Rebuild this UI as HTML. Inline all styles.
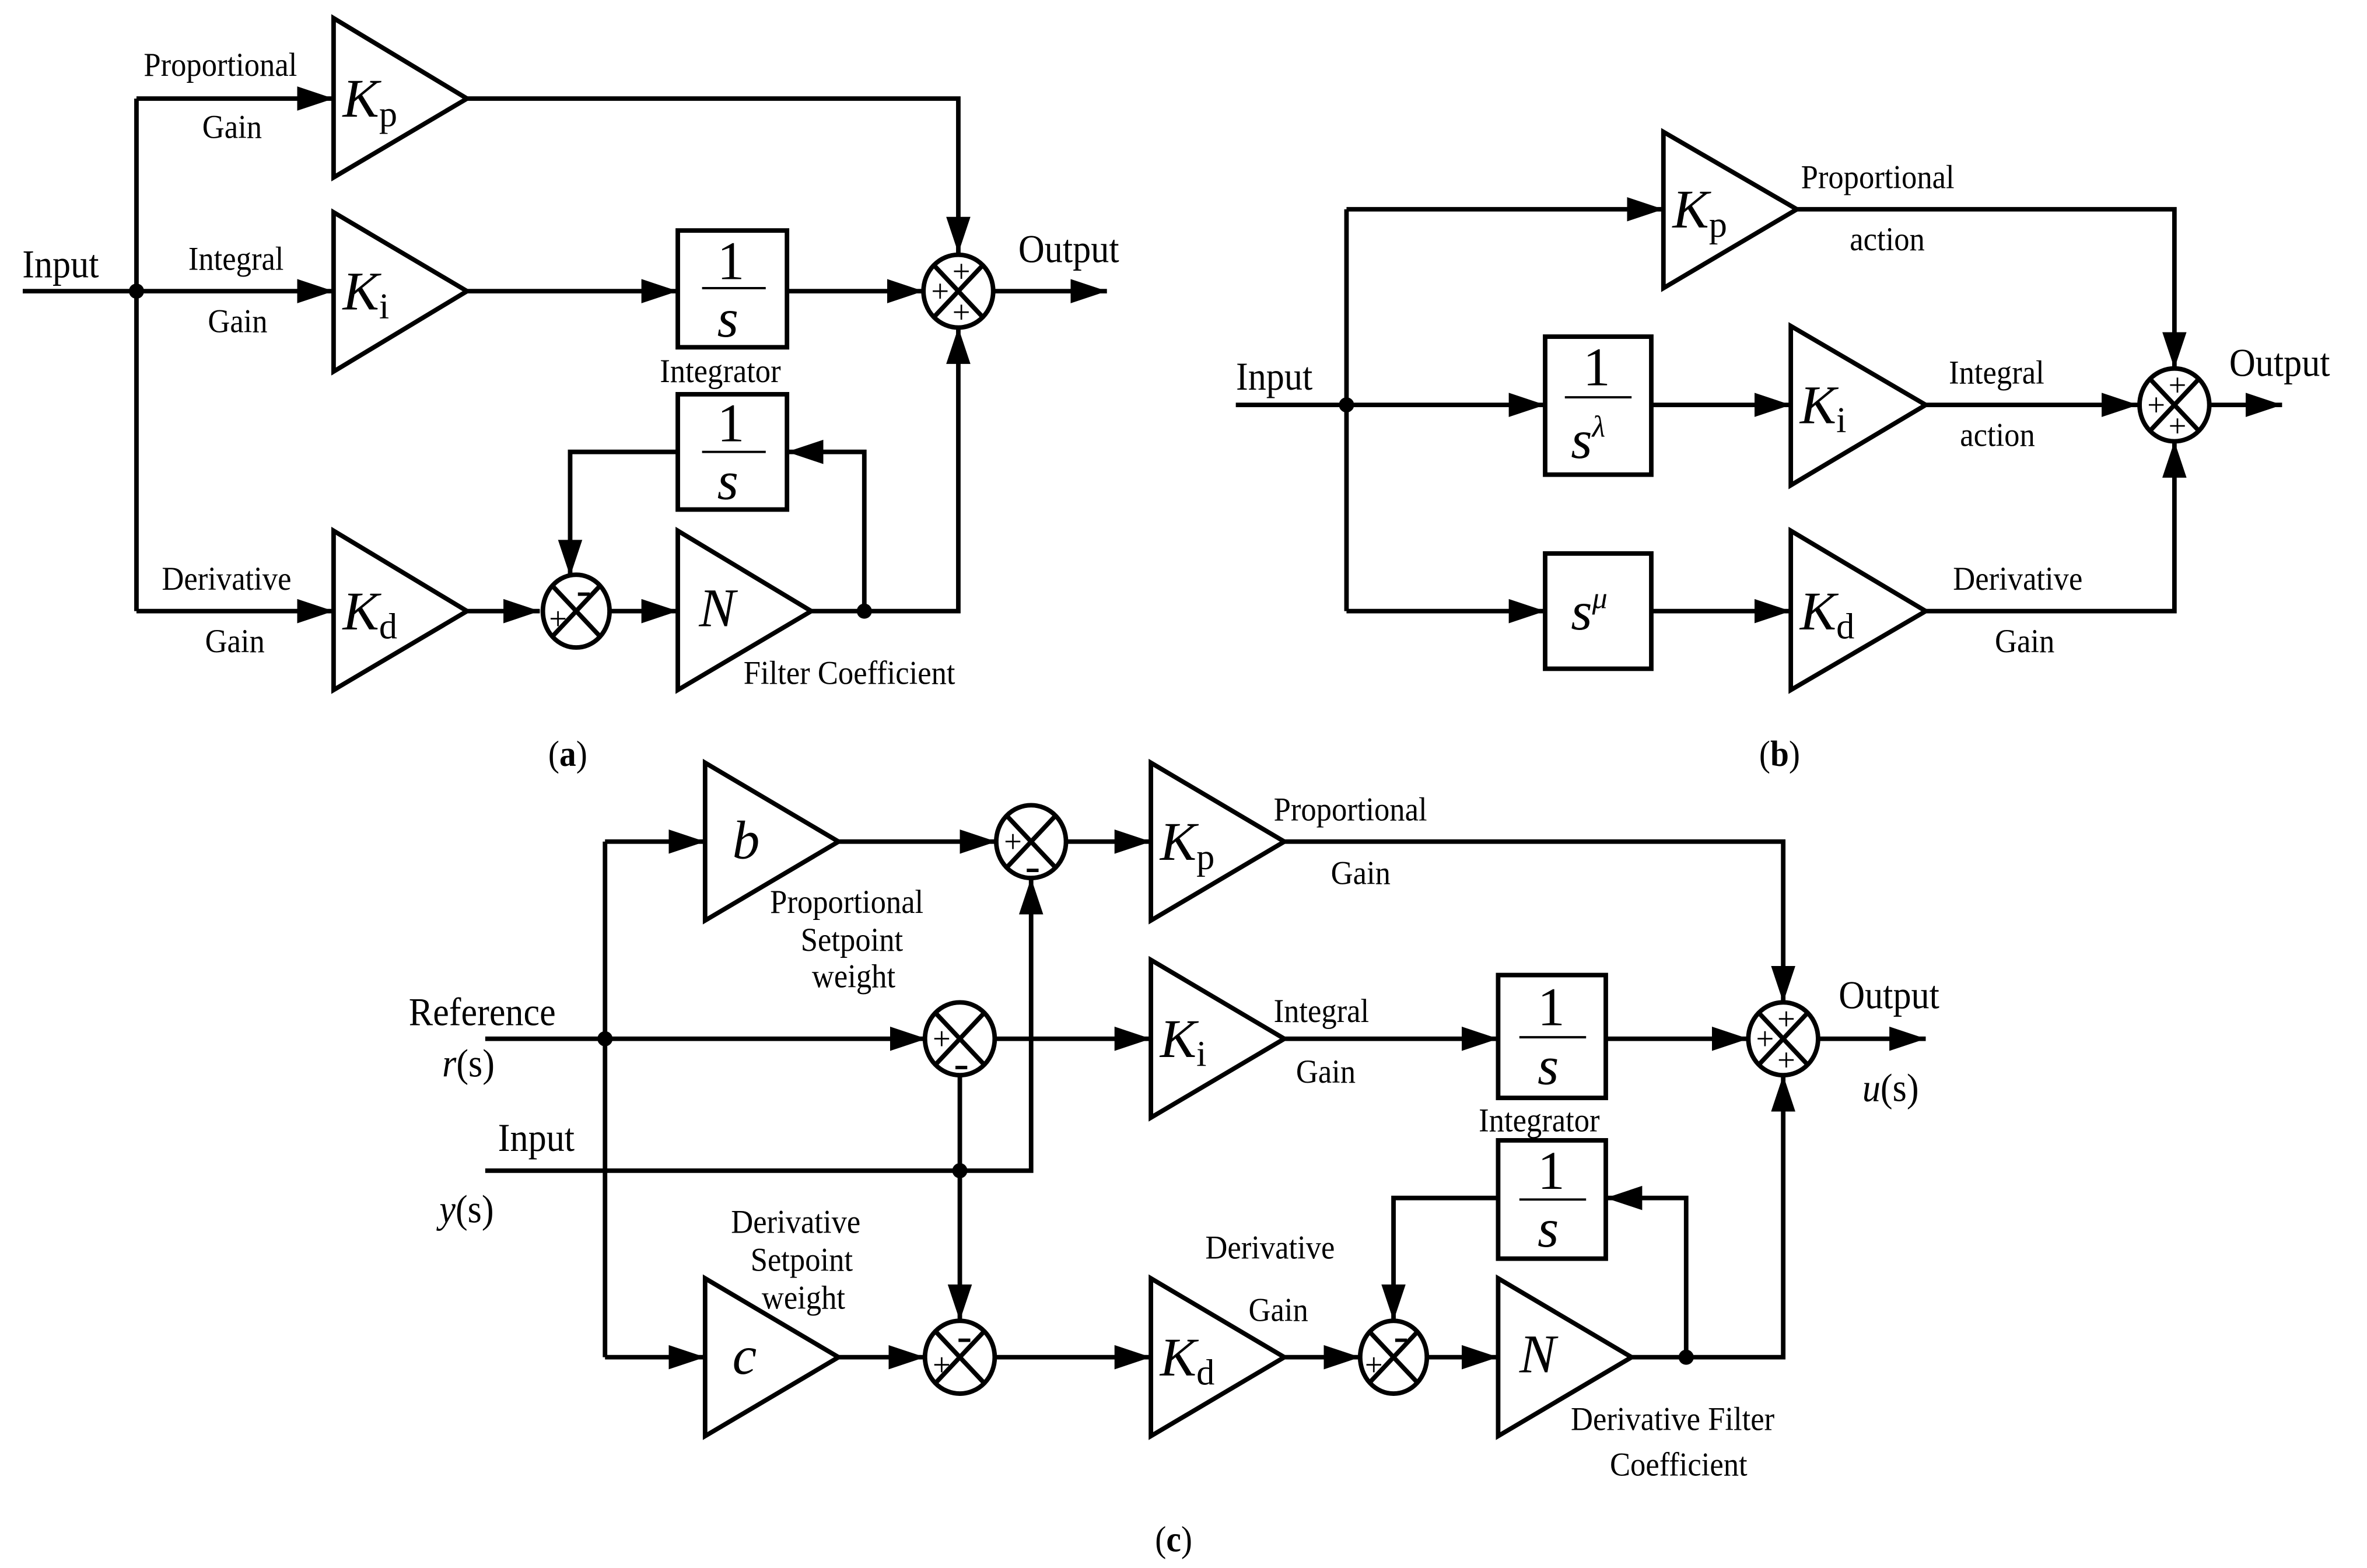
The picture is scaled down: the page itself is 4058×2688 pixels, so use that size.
<!DOCTYPE html>
<html><head><meta charset="utf-8"><style>html,body{margin:0;padding:0;background:#fff}svg{display:block}text{font-family:"Liberation Serif",serif}</style></head>
<body>
<svg width="4058" height="2688" viewBox="0 0 1561 1034" preserveAspectRatio="none" xmlns="http://www.w3.org/2000/svg" font-family="'Liberation Serif', serif">
<defs>
<marker id="a" markerUnits="userSpaceOnUse" markerWidth="26" markerHeight="18" refX="24" refY="8" orient="auto"><path d="M0,0 L24,8 L0,16 z" fill="#000"/></marker>
</defs>
<g stroke="#000" stroke-width="3" fill="none">
<!-- (a) -->
<line x1="15" y1="192" x2="220" y2="192" marker-end="url(#a)"/>
<line x1="90" y1="65" x2="90" y2="403"/>
<line x1="90" y1="65" x2="220" y2="65" marker-end="url(#a)"/>
<line x1="90" y1="403" x2="220" y2="403" marker-end="url(#a)"/>
<polygon points="220,12 220,117 308,65"/>
<polygon points="220,140 220,245 308,192"/>
<polygon points="220,350 220,455 308,403"/>
<polyline points="308,65 632,65 632,167" marker-end="url(#a)"/>
<line x1="308" y1="192" x2="447" y2="192" marker-end="url(#a)"/>
<rect x="447" y="152" width="72" height="77"/>
<line x1="519" y1="192" x2="609" y2="192" marker-end="url(#a)"/>
<line x1="655" y1="192" x2="730" y2="192" marker-end="url(#a)"/>
<ellipse cx="632" cy="192" rx="23" ry="24"/>
<line x1="616" y1="175" x2="648" y2="209"/><line x1="648" y1="175" x2="616" y2="209"/>
<rect x="447" y="260" width="72" height="76"/>
<polyline points="570,403 570,298 519,298" marker-end="url(#a)"/>
<polyline points="447,298 376,298 376,380" marker-end="url(#a)"/>
<line x1="308" y1="403" x2="356" y2="403" marker-end="url(#a)"/>
<ellipse cx="380" cy="403" rx="22" ry="24"/>
<line x1="364" y1="386" x2="396" y2="420"/><line x1="396" y1="386" x2="364" y2="420"/>
<line x1="402" y1="403" x2="447" y2="403" marker-end="url(#a)"/>
<polygon points="447,350 447,455 535,403"/>
<polyline points="535,403 632,403 632,216" marker-end="url(#a)"/>
<line x1="463" y1="190" x2="505" y2="190" stroke-width="1.5"/>
<line x1="463" y1="298" x2="505" y2="298" stroke-width="1.5"/>
<!-- (b) -->
<line x1="815" y1="267" x2="1019" y2="267" marker-end="url(#a)"/>
<line x1="888" y1="138" x2="888" y2="403"/>
<line x1="888" y1="138" x2="1097" y2="138" marker-end="url(#a)"/>
<line x1="888" y1="403" x2="1019" y2="403" marker-end="url(#a)"/>
<polygon points="1097,87 1097,190 1185,138"/>
<polyline points="1185,138 1434,138 1434,243" marker-end="url(#a)"/>
<rect x="1019" y="222" width="70" height="91"/>
<line x1="1032" y1="262" x2="1076" y2="262" stroke-width="1.5"/>
<line x1="1089" y1="267" x2="1181" y2="267" marker-end="url(#a)"/>
<polygon points="1181,215 1181,320 1270,267"/>
<line x1="1270" y1="267" x2="1410" y2="267" marker-end="url(#a)"/>
<ellipse cx="1434" cy="267" rx="23" ry="24"/>
<line x1="1418" y1="250" x2="1450" y2="284"/><line x1="1450" y1="250" x2="1418" y2="284"/>
<line x1="1457" y1="267" x2="1505" y2="267" marker-end="url(#a)"/>
<rect x="1019" y="365" width="70" height="76"/>
<line x1="1089" y1="403" x2="1181" y2="403" marker-end="url(#a)"/>
<polygon points="1181,350 1181,455 1270,403"/>
<polyline points="1270,403 1434,403 1434,291" marker-end="url(#a)"/>
<!-- (c) -->
<line x1="320" y1="685" x2="611" y2="685" marker-end="url(#a)"/>
<line x1="399" y1="555" x2="399" y2="895"/>
<line x1="399" y1="555" x2="465" y2="555" marker-end="url(#a)"/>
<line x1="399" y1="895" x2="465" y2="895" marker-end="url(#a)"/>
<polygon points="465,503 465,607 553,555"/>
<line x1="553" y1="555" x2="657" y2="555" marker-end="url(#a)"/>
<ellipse cx="680" cy="555" rx="23" ry="24"/>
<line x1="664" y1="538" x2="696" y2="572"/><line x1="696" y1="538" x2="664" y2="572"/>
<line x1="703" y1="555" x2="759" y2="555" marker-end="url(#a)"/>
<polygon points="759,503 759,607 847,555"/>
<polyline points="847,555 1176,555 1176,661" marker-end="url(#a)"/>
<ellipse cx="633" cy="685" rx="23" ry="24"/>
<line x1="617" y1="668" x2="649" y2="702"/><line x1="649" y1="668" x2="617" y2="702"/>
<line x1="656" y1="685" x2="759" y2="685" marker-end="url(#a)"/>
<polygon points="759,633 759,737 847,685"/>
<line x1="847" y1="685" x2="988" y2="685" marker-end="url(#a)"/>
<rect x="988" y="643" width="71" height="81"/>
<line x1="1002" y1="684" x2="1046" y2="684" stroke-width="1.5"/>
<line x1="1059" y1="685" x2="1153" y2="685" marker-end="url(#a)"/>
<ellipse cx="1176" cy="685" rx="23" ry="24"/>
<line x1="1160" y1="668" x2="1192" y2="702"/><line x1="1192" y1="668" x2="1160" y2="702"/>
<line x1="1199" y1="685" x2="1270" y2="685" marker-end="url(#a)"/>
<polyline points="320,772 680,772 680,579" marker-end="url(#a)"/>
<line x1="633" y1="709" x2="633" y2="871" marker-end="url(#a)"/>
<polygon points="465,843 465,947 553,895"/>
<line x1="553" y1="895" x2="610" y2="895" marker-end="url(#a)"/>
<ellipse cx="633" cy="895" rx="23" ry="24"/>
<line x1="617" y1="878" x2="649" y2="912"/><line x1="649" y1="878" x2="617" y2="912"/>
<line x1="656" y1="895" x2="759" y2="895" marker-end="url(#a)"/>
<polygon points="759,843 759,947 847,895"/>
<line x1="847" y1="895" x2="897" y2="895" marker-end="url(#a)"/>
<ellipse cx="919" cy="895" rx="22" ry="24"/>
<line x1="903" y1="878" x2="935" y2="912"/><line x1="935" y1="878" x2="903" y2="912"/>
<line x1="941" y1="895" x2="988" y2="895" marker-end="url(#a)"/>
<polygon points="988,843 988,947 1076,895"/>
<polyline points="1076,895 1176,895 1176,709" marker-end="url(#a)"/>
<rect x="988" y="752" width="71" height="78"/>
<line x1="1002" y1="791" x2="1046" y2="791" stroke-width="1.5"/>
<polyline points="1112,895 1112,790 1059,790" marker-end="url(#a)"/>
<polyline points="988,790 919,790 919,871" marker-end="url(#a)"/>
</g>
<g fill="#000">
<circle cx="90" cy="192" r="5"/><circle cx="570" cy="403" r="5"/><circle cx="888" cy="267" r="5"/>
<circle cx="399" cy="685" r="5"/><circle cx="633" cy="772" r="5"/><circle cx="1112" cy="895" r="5"/>
</g>
<g font-size="22" fill="#000" transform="scale(0.92,1)">
<g transform="scale(1,1)">
<text x="103" y="50">Proportional</text><text x="145" y="91">Gain</text>
<text x="135" y="178">Integral</text><text x="149" y="219">Gain</text>
<text x="16" y="183" font-size="26">Input</text><text x="730" y="173" font-size="26">Output</text>
<text x="473" y="252">Integrator</text>
<text x="116" y="389">Derivative</text><text x="147" y="430">Gain</text>
<text x="533" y="451">Filter Coefficient</text>
<text x="393" y="505" font-size="24">(<tspan font-weight="bold">a</tspan>)</text>
<text x="1291" y="124">Proportional</text><text x="1326" y="165">action</text>
<text x="1397" y="253">Integral</text><text x="1405" y="294">action</text>
<text x="1400" y="389">Derivative</text><text x="1430" y="430">Gain</text>
<text x="886" y="257" font-size="26">Input</text><text x="1598" y="248" font-size="26">Output</text>
<text x="1261" y="505" font-size="24">(<tspan font-weight="bold">b</tspan>)</text>
<text x="293" y="676" font-size="26">Reference</text><text x="317" y="710" font-size="26"><tspan font-style="italic">r</tspan>(s)</text>
<text x="357" y="759" font-size="26">Input</text><text x="315" y="806" font-size="26"><tspan font-style="italic">y</tspan>(s)</text>
<text x="913" y="541">Proportional</text><text x="954" y="583">Gain</text>
<text x="552" y="602">Proportional</text><text x="574" y="627">Setpoint</text><text x="582" y="651">weight</text>
<text x="913" y="674">Integral</text><text x="929" y="714">Gain</text>
<text x="1060" y="746">Integrator</text>
<text x="1318" y="665" font-size="26">Output</text><text x="1335" y="726" font-size="26"><tspan font-style="italic">u</tspan>(s)</text>
<text x="524" y="813">Derivative</text><text x="538" y="838">Setpoint</text><text x="546" y="863">weight</text>
<text x="864" y="830">Derivative</text><text x="895" y="871">Gain</text>
<text x="1126" y="943">Derivative Filter</text><text x="1154" y="973">Coefficient</text>
<text x="828" y="1023" font-size="24">(<tspan font-weight="bold">c</tspan>)</text>
</g>
</g>
<g font-size="36" font-style="italic" fill="#000">
<text x="226" y="77">K<tspan font-size="24" font-style="normal" dy="6">p</tspan></text>
<text x="226" y="204">K<tspan font-size="24" font-style="normal" dy="6">i</tspan></text>
<text x="226" y="415">K<tspan font-size="24" font-style="normal" dy="6">d</tspan></text>
<text x="461" y="413">N</text>
<text x="1103" y="150">K<tspan font-size="24" font-style="normal" dy="6">p</tspan></text>
<text x="1187" y="279">K<tspan font-size="24" font-style="normal" dy="6">i</tspan></text>
<text x="1187" y="415">K<tspan font-size="24" font-style="normal" dy="6">d</tspan></text>
<text x="1036" y="415">s<tspan font-size="20" dy="-14">μ</tspan></text>
<text x="1036" y="302">s<tspan font-size="20" dy="-14">λ</tspan></text>
<text x="483" y="566">b</text>
<text x="765" y="567">K<tspan font-size="24" font-style="normal" dy="6">p</tspan></text>
<text x="765" y="697">K<tspan font-size="24" font-style="normal" dy="6">i</tspan></text>
<text x="483" y="906">c</text>
<text x="765" y="907">K<tspan font-size="24" font-style="normal" dy="6">d</tspan></text>
<text x="1002" y="905">N</text>
<text x="473" y="222">s</text><text x="473" y="329">s</text>
<text x="1014" y="715">s</text><text x="1014" y="822">s</text>
</g>
<g font-size="36" fill="#000">
<text x="473" y="184">1</text><text x="473" y="291">1</text>
<text x="1044" y="254">1</text>
<text x="1014" y="676">1</text><text x="1014" y="784">1</text>
</g>
<g font-size="21" fill="#000" text-anchor="middle">
<text x="634" y="186">+</text><text x="620" y="199">+</text><text x="634" y="213">+</text>
<text x="1436" y="261">+</text><text x="1422" y="274">+</text><text x="1436" y="288">+</text>
<text x="1178" y="679">+</text><text x="1164" y="692">+</text><text x="1178" y="706">+</text>
<text x="368" y="415">+</text><text x="385" y="399" font-size="30">-</text>
<text x="668" y="562">+</text><text x="681" y="581" font-size="30">-</text>
<text x="621" y="692">+</text><text x="634" y="711" font-size="30">-</text>
<text x="621" y="907">+</text><text x="636" y="891" font-size="30">-</text>
<text x="906" y="907">+</text><text x="924" y="891" font-size="30">-</text>
</g>
</svg>
</body></html>
